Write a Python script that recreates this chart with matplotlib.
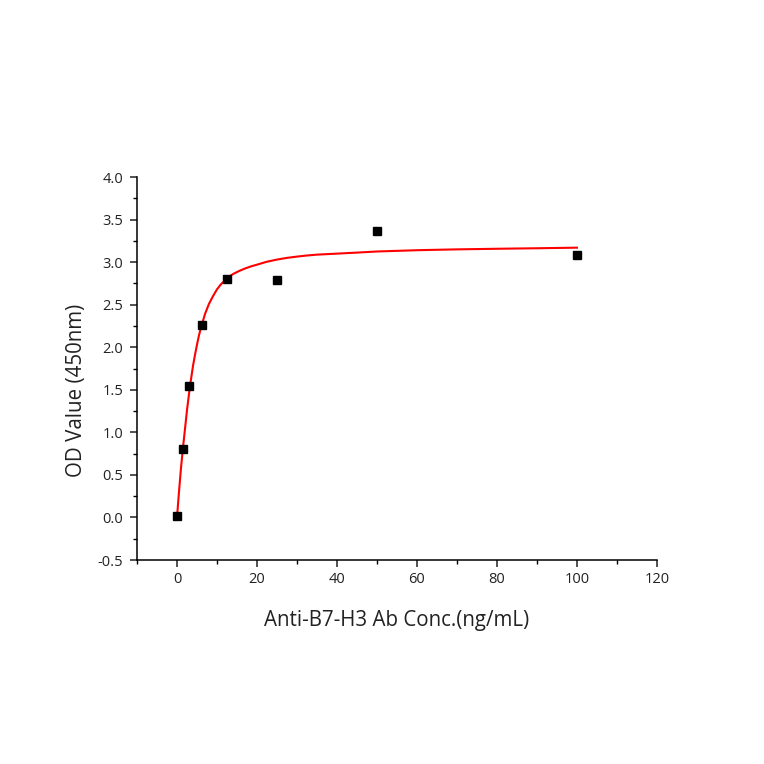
import matplotlib
matplotlib.use('Agg')
import matplotlib.pyplot as plt
from matplotlib.ticker import MultipleLocator, FormatStrFormatter

plt.rcParams['font.family'] = ['Open Sans', 'DejaVu Sans']

# measured points
conc = [0, 1.5625, 3.125, 6.25, 12.5, 25, 50, 100]
od = [0.02, 0.81, 1.55, 2.26, 2.80, 2.79, 3.37, 3.08]

# fitted curve
fit_x = [0, 0.5, 1, 1.5, 2, 2.5, 3, 3.5, 4, 4.5, 5, 5.5, 6, 6.5, 7, 7.5, 8, 9, 10, 11, 12.5,
         14, 15.5, 17, 18.5, 20, 22.5, 25, 27.5, 30, 32.5, 35, 40, 45, 50, 60, 70, 80, 90, 100]
fit_y = [0.0, 0.30, 0.58, 0.82, 1.04, 1.26, 1.45, 1.62, 1.78, 1.91, 2.03, 2.14, 2.23, 2.31, 2.39,
         2.45, 2.51, 2.60, 2.68, 2.74, 2.81, 2.86, 2.895, 2.925, 2.95, 2.97, 3.005, 3.03, 3.05,
         3.065, 3.078, 3.088, 3.10, 3.112, 3.125, 3.14, 3.15, 3.157, 3.163, 3.17]

fig = plt.figure(figsize=(7.64, 7.64), dpi=100)
ax = fig.add_axes([0.1793, 0.267, 0.6806, 0.5013])

ax.plot(fit_x, fit_y, color='red', lw=1.5, zorder=2)
ax.plot(conc, od, 's', color='black', markersize=6, zorder=3)

ax.set_xlim(-10, 120)
ax.set_ylim(-0.5, 4.0)
ax.xaxis.set_major_locator(MultipleLocator(20))
ax.xaxis.set_minor_locator(MultipleLocator(10))
ax.yaxis.set_major_locator(MultipleLocator(0.5))
ax.yaxis.set_minor_locator(MultipleLocator(0.25))
ax.yaxis.set_major_formatter(FormatStrFormatter('%.1f'))

ax.spines['top'].set_visible(False)
ax.spines['right'].set_visible(False)
for s in ['left', 'bottom']:
    ax.spines[s].set_linewidth(1.1)
ax.tick_params(which='major', direction='out', length=5, width=1.1, labelsize=10.5, colors='#222222')
ax.tick_params(axis='y', which='major', pad=5)
ax.tick_params(which='minor', direction='out', length=3, width=1.0)

ax.set_xlabel('Anti-B7-H3 Ab Conc.(ng/mL)', fontsize=14.8, labelpad=17, color='#222222')
ax.set_ylabel('OD Value (450nm)', fontsize=14.8, color='#222222')
ax.yaxis.set_label_coords(-0.097, 0.444)

fig.savefig('out.png', dpi=100)
